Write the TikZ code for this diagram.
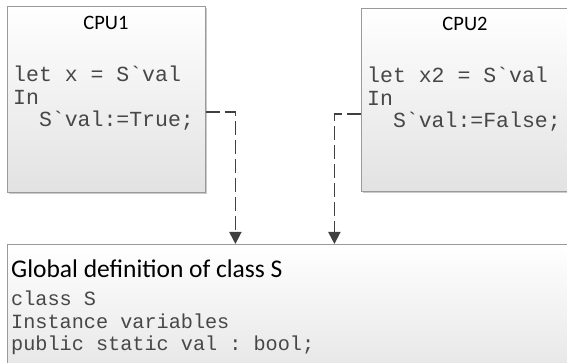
\documentclass[tikz,border=0pt]{standalone}
\usepackage{fontspec}
\setmainfont{Carlito}
\setmonofont{Liberation Mono}
\usetikzlibrary{arrows.meta,shadows}
\definecolor{boxborder}{HTML}{9A9A9A}
\definecolor{boxbottom}{HTML}{E2E2E2}
\definecolor{connc}{HTML}{404040}
\definecolor{codec}{HTML}{474747}
\begin{document}
\begin{tikzpicture}[x=1pt,y=-1pt,
  panel/.style={draw=boxborder, line width=0.8pt, top color=white, bottom color=boxbottom,
    drop shadow={shadow xshift=1.5pt, shadow yshift=-1.5pt, opacity=0.35, fill=black!60},
    anchor=north west, inner sep=0pt},
  cputitle/.style={font=\fontsize{20.5}{24}\selectfont, text=black, anchor=base, inner sep=0pt},
  bigtitle/.style={font=\fontsize{25.5}{30}\selectfont, text=black, anchor=base west, inner sep=0pt, text depth=0pt},
  cpucode/.style={font=\ttfamily\fontsize{21.5}{24}\selectfont, text=codec, anchor=base west, inner sep=0pt},
  globcode/.style={font=\ttfamily\fontsize{20.2}{24}\selectfont, text=codec, anchor=base west, inner sep=0pt, text height=0.68em, text depth=0.2em},
  conn/.style={draw=connc, line width=1.8pt, dash pattern=on 14pt off 5pt,
    -{Triangle[length=12pt,width=12pt]}}]
\useasboundingbox (0,0) rectangle (567,363);
% boxes
\node[panel, minimum width=198pt, minimum height=186pt] (cpu1) at (7,6) {};
\node[panel, minimum width=212pt, minimum height=183pt] (cpu2) at (361,8) {};
\node[panel, minimum width=590pt, minimum height=150pt] (glob) at (7,244) {};
% CPU1 text
\node[cputitle] (t1) at (106,30) {CPU1};
\node[cpucode] (c1a) at (13,82) {let x = S`val};
\node[cpucode] (c1b) at (13,105) {In};
\node[cpucode] (c1c) at (13,127) {\phantom{xx}S`val:=True;};
% CPU2 text
\node[cputitle] (t2) at (465,31) {CPU2};
\node[cpucode] (c2a) at (367,83) {let x2 = S`val};
\node[cpucode] (c2b) at (367,106) {In};
\node[cpucode] (c2c) at (367,128) {\phantom{xx}S`val:=False;};
% Global text
\node[bigtitle] (gt) at (11,277) {Global definition of class S};
\node[globcode] (g1) at (11,305) {class S};
\node[globcode] (g2) at (11,328) {Instance variables};
\node[globcode] (g3) at (11,350) {public static val : bool;};
% connectors
\draw[conn] ([yshift=-13pt]cpu1.east) -| ([xshift=-67pt]glob.north);
\draw[conn] ([yshift=-14.5pt]cpu2.west) -| ([xshift=32pt]glob.north);
\end{tikzpicture}
\end{document}
